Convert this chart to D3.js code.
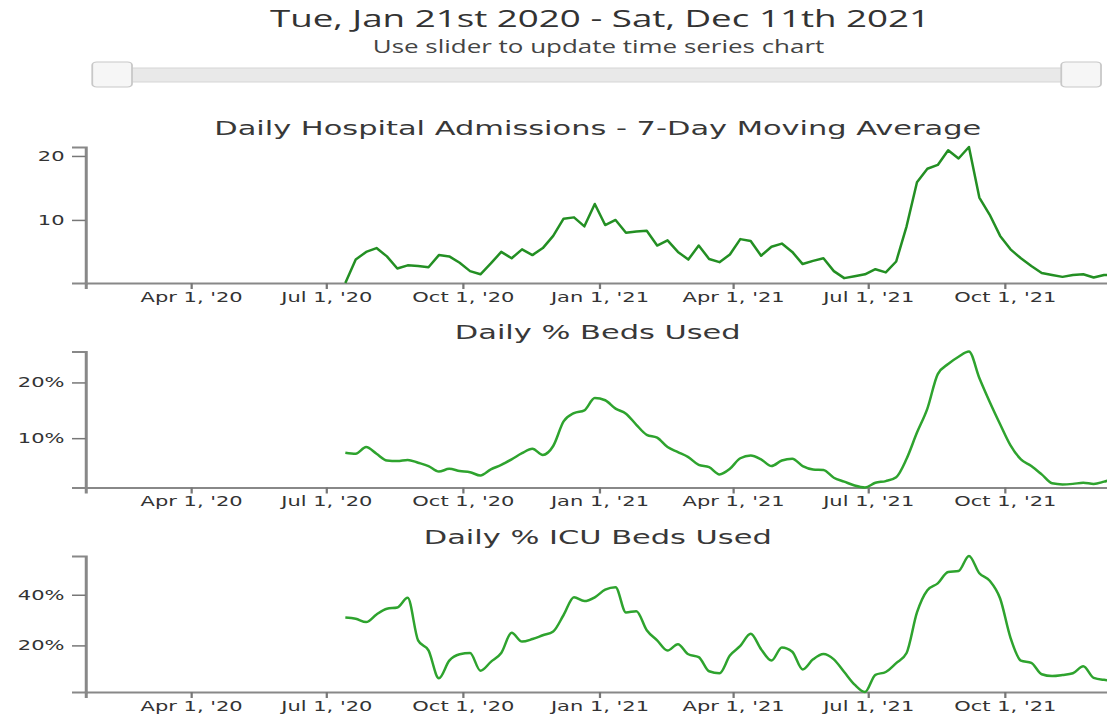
<!DOCTYPE html>
<html>
<head>
    <meta charset="UTF-8">
    <script src="https://cdn.jsdelivr.net/npm/d3@7"></script>
    <style>
        body { margin: 0; overflow: hidden; background: #fff; }
    </style>
</head>
<body>
<div id="ChartContainer"></div>
<script>
    // weekly readings, Jul 2020 - Dec 2021
    const dates = [
        "2020-07-14", "2020-07-21", "2020-07-28", "2020-08-04", "2020-08-11", "2020-08-18", "2020-08-25",
        "2020-09-01", "2020-09-08", "2020-09-15", "2020-09-22", "2020-09-29", "2020-10-06", "2020-10-13",
        "2020-10-20", "2020-10-27", "2020-11-03", "2020-11-10", "2020-11-17", "2020-11-24", "2020-12-01",
        "2020-12-08", "2020-12-15", "2020-12-22", "2020-12-29", "2021-01-05", "2021-01-12", "2021-01-19",
        "2021-01-26", "2021-02-02", "2021-02-09", "2021-02-16", "2021-02-23", "2021-03-02", "2021-03-09",
        "2021-03-16", "2021-03-23", "2021-03-30", "2021-04-06", "2021-04-13", "2021-04-20", "2021-04-27",
        "2021-05-04", "2021-05-11", "2021-05-18", "2021-05-25", "2021-06-01", "2021-06-08", "2021-06-15",
        "2021-06-22", "2021-06-29", "2021-07-06", "2021-07-13", "2021-07-20", "2021-07-27", "2021-08-03",
        "2021-08-10", "2021-08-17", "2021-08-24", "2021-08-31", "2021-09-07", "2021-09-14", "2021-09-21",
        "2021-09-28", "2021-10-05", "2021-10-12", "2021-10-19", "2021-10-26", "2021-11-02", "2021-11-09",
        "2021-11-16", "2021-11-23", "2021-11-30", "2021-12-07", "2021-12-11"
    ]

    const admissions = [
        0.14, 3.8, 5.0, 5.6, 4.3, 2.4, 2.9, 2.8, 2.6, 4.5,
        4.3, 3.3, 2.0, 1.5, 3.2, 5.0, 4.0, 5.4, 4.5, 5.6,
        7.5, 10.2, 10.4, 9.0, 12.5, 9.2, 10.0, 8.0, 8.2, 8.3,
        6.0, 6.8, 5.0, 3.8, 6.0, 3.9, 3.4, 4.6, 7.0, 6.7,
        4.4, 5.8, 6.3, 5.0, 3.1, 3.6, 4.0, 2.0, 0.9, 1.2,
        1.5, 2.3, 1.8, 3.5, 9.0, 15.9, 18.0, 18.6, 20.9, 19.6,
        21.4, 13.5, 10.8, 7.5, 5.4, 4.0, 2.8, 1.7, 1.4, 1.1,
        1.4, 1.5, 1.0, 1.4, 1.4
    ]

    const beds_used = [
        7.4, 7.2, 8.4, 7.2, 6.0, 5.9, 6.1, 5.6, 5.0, 4.0,
        4.5, 4.1, 3.9, 3.3, 4.4, 5.2, 6.2, 7.3, 8.1, 7.0,
        8.6, 13.0, 14.5, 15.0, 17.2, 16.8, 15.3, 14.4, 12.4, 10.6,
        10.1, 8.4, 7.5, 6.6, 5.2, 4.8, 3.5, 4.5, 6.4, 6.9,
        6.2, 5.0, 6.0, 6.3, 5.0, 4.4, 4.3, 2.9, 2.2, 1.5,
        1.15, 2.0, 2.3, 3.0, 6.3, 11.0, 15.3, 21.5, 23.3, 24.6,
        25.55, 20.8, 16.5, 12.5, 8.7, 6.2, 5.0, 3.5, 1.9, 1.7,
        1.8, 2.0, 1.8, 2.2, 2.5
    ]

    const icu_used = [
        31.0, 30.5, 29.2, 32.2, 34.5, 35.0, 38.8, 22.0, 18.0, 7.0,
        14.0, 16.5, 17.0, 10.0, 13.5, 17.0, 25.0, 21.5, 22.5, 24.0,
        25.5, 32.0, 39.0, 37.5, 39.0, 42.0, 43.0, 33.0, 33.5, 26.0,
        22.0, 18.0, 20.5, 16.5, 15.4, 9.8, 9.0, 16.0, 19.8, 24.6,
        18.5, 14.0, 19.2, 17.5, 10.5, 14.5, 16.6, 14.5, 9.5, 4.5,
        1.6, 8.4, 9.5, 13.0, 17.0, 33.0, 41.8, 44.5, 49.0, 49.4,
        55.3, 48.5, 45.5, 38.5, 23.0, 14.0, 13.1, 8.6, 7.9, 8.3,
        9.0, 11.8, 7.2, 6.4, 6.2
    ]

    const chart_titles = [
        "Daily Hospital Admissions - 7-Day Moving Average",
        "Daily % Beds Used",
        "Daily % ICU Beds Used"
    ]
    const range_start = "2020-01-21"
    const range_end = "2021-12-11"

    // the whole picture is drawn in an 800 wide space and stretched sideways
    const base_width = 800
    const height = 718
    const stretch = 1.5
    const margin_left = 57
    const margin_right = 60
    const chart_height = 136

    const parse = d3.timeParse("%Y-%m-%d")
    const ordinal = d => {
        const n = d.getDate()
        if (n % 10 === 1 && n !== 11) return n + "st"
        if (n % 10 === 2 && n !== 12) return n + "nd"
        if (n % 10 === 3 && n !== 13) return n + "rd"
        return n + "th"
    }
    const long_date = d => `${d3.timeFormat("%a, %b ")(d)}${ordinal(d)} ${d.getFullYear()}`

    const svg = d3.select("#ChartContainer")
        .append("svg")
        .attr("width", base_width * stretch)
        .attr("height", height)
        .attr("viewBox", `0 0 ${base_width} ${height}`)
        .attr("preserveAspectRatio", "none")

    // header + slider
    svg.append("text")
        .attr("x", base_width / 2)
        .attr("y", 27)
        .attr("text-anchor", "middle")
        .attr("font-family", "Open Sans")
        .attr("font-size", 24.5)
        .attr("fill", "#333")
        .text(`${long_date(parse(range_start))} - ${long_date(parse(range_end))}`)

    svg.append("text")
        .attr("x", base_width / 2 - 1)
        .attr("y", 53)
        .attr("text-anchor", "middle")
        .attr("font-family", "Open Sans")
        .attr("font-size", 17.3)
        .attr("fill", "#444")
        .text("Use slider to update time series chart")

    const slider = svg.append("g")
    slider.append("rect")
        .attr("x", 75).attr("y", 68)
        .attr("width", 645).attr("height", 14)
        .attr("rx", 2)
        .attr("fill", "#e9e9e9")
        .attr("stroke", "#d6d6d6")
    slider.selectAll(".handle")
        .data([61.5, 707.5])
        .enter()
        .append("rect")
        .attr("class", "handle")
        .attr("x", d => d).attr("y", 62)
        .attr("width", 26.5).attr("height", 25)
        .attr("rx", 3)
        .attr("fill", "#f6f6f6")
        .attr("stroke", "#c8c8c8")
        .attr("stroke-width", 1.2)

    const x = d3.scaleTime()
        .domain([parse(range_start), parse(range_end)])
        .range([margin_left, base_width - margin_right])

    const charts = [
        { title: chart_titles[0], values: admissions, color: "#238f23", format: d => d, curve: d3.curveLinear },
        { title: chart_titles[1], values: beds_used, color: "#2ea32e", format: d => d + "%", curve: d3.curveMonotoneX },
        { title: chart_titles[2], values: icu_used, color: "#2ea32e", format: d => d + "%", curve: d3.curveMonotoneX }
    ]

    charts.forEach((chart, i) => {
        const top = 147 + i * 204.5
        const points = dates.map((d, j) => ({ date: parse(d), value: chart.values[j] }))

        const y = d3.scaleLinear()
            .domain(d3.extent(chart.values))
            .range([top + chart_height, top])

        const g = svg.append("g")

        g.append("text")
            .attr("x", base_width / 2 - 1.5)
            .attr("y", top - 12)
            .attr("text-anchor", "middle")
            .attr("font-family", "DejaVu Sans")
            .attr("font-size", 20.3)
            .attr("fill", "#383838")
            .text(chart.title)

        const x_axis = g.append("g")
            .attr("transform", `translate(0,${top + chart_height})`)
            .call(d3.axisBottom(x)
                .ticks(d3.timeMonth.every(3))
                .tickFormat(d3.timeFormat("%b %-d, '%y"))
                .tickSize(6))

        const y_axis = g.append("g")
            .attr("transform", `translate(${margin_left},0)`)
            .call(d3.axisLeft(y)
                .ticks(3)
                .tickSize(9)
                .tickPadding(5)
                .tickFormat(chart.format))

        ;[x_axis, y_axis].forEach(a => {
            a.attr("font-family", "DejaVu Sans").attr("font-size", 14)
            a.select(".domain").attr("stroke", "#888").attr("stroke-width", 2)
            a.selectAll(".tick line").attr("stroke", "#777").attr("stroke-width", 1.5)
            a.selectAll(".tick text").attr("fill", "#333")
        })

        g.append("path")
            .datum(points)
            .attr("fill", "none")
            .attr("stroke", chart.color)
            .attr("stroke-width", 2.5)
            .attr("stroke-linejoin", "round")
            .attr("vector-effect", "non-scaling-stroke")
            .attr("d", d3.line()
                .curve(chart.curve)
                .x(d => x(d.date))
                .y(d => y(d.value)))
    })
</script>
</body>
</html>
